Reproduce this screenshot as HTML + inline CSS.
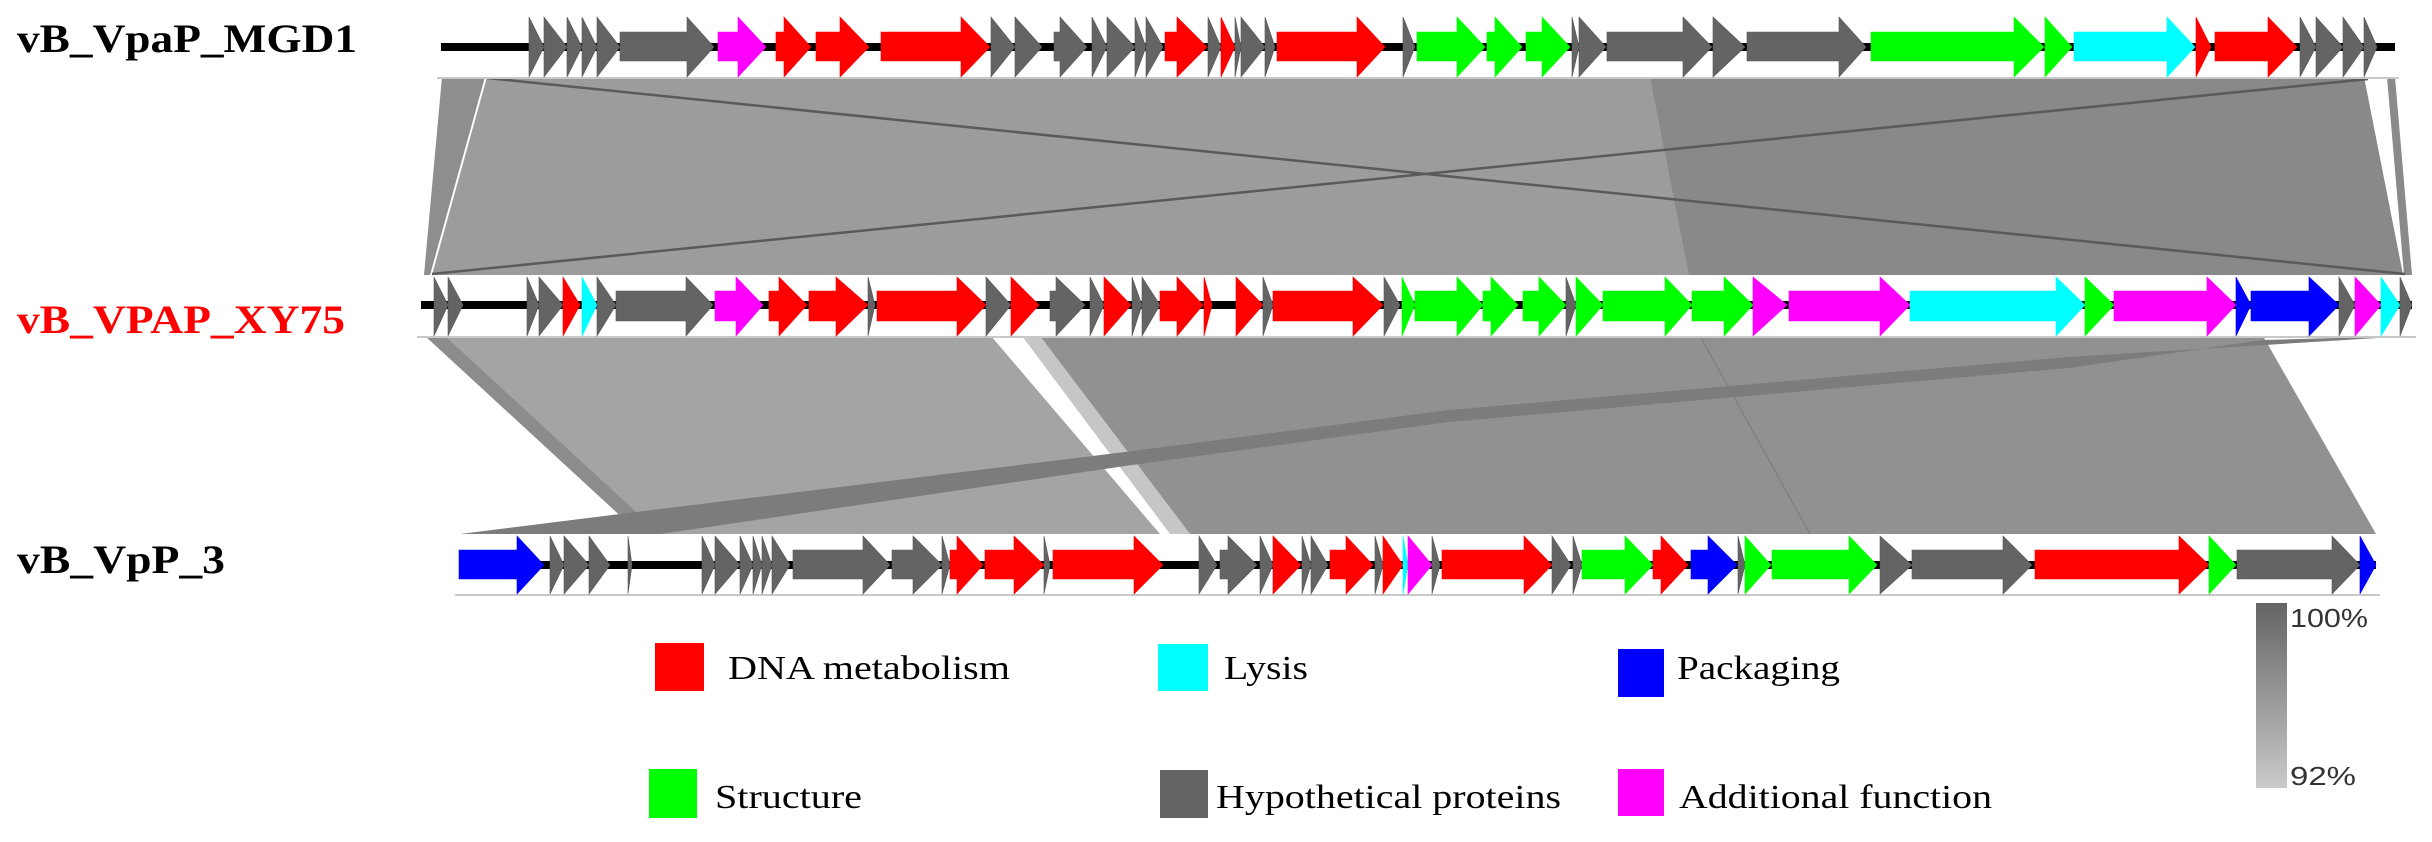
<!DOCTYPE html>
<html><head><meta charset="utf-8"><style>
html,body{margin:0;padding:0;background:#fff;}
svg{display:block;}
</style></head><body>
<svg id="s" width="2432" height="842" viewBox="0 0 2432 842" xmlns="http://www.w3.org/2000/svg">
<defs>
<linearGradient id="sg" x1="0" y1="0" x2="0" y2="1">
<stop offset="0" stop-color="#646464"/><stop offset="1" stop-color="#cacaca"/>
</linearGradient>
</defs>
<!-- band 1 -->
<polygon points="487,77 2364,77 2403,275 432,275" fill="#9c9c9c"/>
<polygon points="1650,77 2364,77 2403,275 1689,275" fill="#898989"/>
<polygon points="442,77 485,77 430,275 424,275" fill="#8e8e8e"/>
<polygon points="2387,77 2395,77 2412,275 2404,275" fill="#8a8a8a"/>
<line x1="487" y1="78" x2="2405" y2="274" stroke="#5a5a5a" stroke-width="2.5"/>
<line x1="432" y1="274" x2="2368" y2="79" stroke="#5a5a5a" stroke-width="2.5"/>
<!-- band 2 -->
<polygon points="425,336 991,336 1160,534 650,534" fill="#a4a4a4"/>
<polygon points="425,336 445,336 660,534 640,534" fill="#8c8c8c"/>
<polygon points="1022,336 1040,336 1190,534 1170,534" fill="#c6c6c6"/>
<polygon points="1040,336 2263,336 2376,534 1190,534" fill="#919191"/>
<polygon points="2410,336 2069,357 1449,410 1125,452 644,511 460,534 660,534 1125,466 1449,422 2069,368 2263,340" fill="#7c7c7c"/>
<line x1="1700" y1="336" x2="1810" y2="534" stroke="#7a7a7a" stroke-width="1"/>
<g id="tracks"></g>
<!-- labels -->
<text x="17" y="52" font-family="Liberation Serif, serif" font-weight="bold" font-size="40" textLength="340" lengthAdjust="spacingAndGlyphs" fill="#000">vB_VpaP_MGD1</text>
<text x="17" y="333" font-family="Liberation Serif, serif" font-weight="bold" font-size="40" textLength="328" lengthAdjust="spacingAndGlyphs" fill="#ff0000">vB_VPAP_XY75</text>
<text x="17" y="573" font-family="Liberation Serif, serif" font-weight="bold" font-size="40" textLength="208" lengthAdjust="spacingAndGlyphs" fill="#000">vB_VpP_3</text>
<!-- legend -->
<rect x="655" y="643" width="49" height="48" fill="#ff0000"/>
<text x="728" y="679" font-family="Liberation Serif, serif" font-size="34" textLength="282" lengthAdjust="spacingAndGlyphs">DNA metabolism</text>
<rect x="1158" y="644" width="50" height="47" fill="#00ffff"/>
<text x="1224" y="679" font-family="Liberation Serif, serif" font-size="34" textLength="84" lengthAdjust="spacingAndGlyphs">Lysis</text>
<rect x="1618" y="649" width="46" height="48" fill="#0000ff"/>
<text x="1677" y="679" font-family="Liberation Serif, serif" font-size="34" textLength="163" lengthAdjust="spacingAndGlyphs">Packaging</text>
<rect x="649" y="769" width="48" height="49" fill="#00ff00"/>
<text x="715" y="808" font-family="Liberation Serif, serif" font-size="34" textLength="147" lengthAdjust="spacingAndGlyphs">Structure</text>
<rect x="1160" y="770" width="48" height="48" fill="#646464"/>
<text x="1216" y="808" font-family="Liberation Serif, serif" font-size="34" textLength="345" lengthAdjust="spacingAndGlyphs">Hypothetical proteins</text>
<rect x="1618" y="769" width="46" height="47" fill="#ff00ff"/>
<text x="1679" y="808" font-family="Liberation Serif, serif" font-size="34" textLength="313" lengthAdjust="spacingAndGlyphs">Additional function</text>
<rect x="2256" y="603" width="31" height="185" fill="url(#sg)"/>
<text x="2290" y="627" font-family="Liberation Sans, sans-serif" font-size="26" textLength="78" lengthAdjust="spacingAndGlyphs" fill="#333">100%</text>
<text x="2290" y="785" font-family="Liberation Sans, sans-serif" font-size="26" textLength="66" lengthAdjust="spacingAndGlyphs" fill="#333">92%</text>
</svg>
<script>
var C={g:"#646464",r:"#ff0000",G:"#00ff00",c:"#00ffff",b:"#0000ff",m:"#ff00ff"};
var T=[
{cy:47,top:17,bot:77,bt:32,bb:61,x1:441,x2:2395,genes:[
[529,529,544,"g"],[544,544,567,"g"],[567,567,582,"g"],[582,582,597,"g"],[597,597,620,"g"],[620,687,714,"g"],[718,738,766,"m"],[776,784,811,"r"],[816,840,869,"r"],[881,961,990,"r"],[991,991,1015,"g"],[1015,1015,1042,"g"],[1054,1060,1087,"g"],[1092,1092,1107,"g"],[1107,1107,1135,"g"],[1135,1135,1146,"g"],[1146,1146,1163,"g"],[1165,1177,1207,"r"],[1208,1208,1221,"g"],[1221,1221,1235,"r"],[1235,1235,1241,"g"],[1241,1241,1265,"g"],[1265,1265,1275,"g"],[1277,1357,1385,"r"],[1403,1403,1415,"g"],
[1417,1457,1485,"G"],[1487,1495,1522,"G"],[1526,1542,1570,"G"],[1572,1572,1579,"g"],[1579,1579,1606,"g"],[1607,1683,1712,"g"],[1713,1713,1745,"g"],[1747,1839,1866,"g"],[1871,2014,2044,"G"],[2045,2045,2072,"G"],[2074,2167,2195,"c"],[2196,2196,2211,"r"],[2215,2268,2297,"r"],[2300,2300,2316,"g"],[2316,2316,2343,"g"],[2343,2343,2364,"g"],[2364,2364,2377,"g"]]},
{cy:305,top:277,bot:336,bt:291,bb:321,x1:421,x2:2412,genes:[
[434,434,448,"g"],[448,448,463,"g"],[527,527,539,"g"],[539,539,563,"g"],[563,563,580,"r"],[582,582,597,"c"],[597,597,616,"g"],[616,686,713,"g"],[715,736,763,"m"],[769,779,807,"r"],[809,836,868,"r"],[868,868,875,"g"],[877,957,986,"r"],[986,986,1011,"g"],[1011,1011,1039,"r"],[1050,1056,1085,"g"],[1090,1090,1104,"g"],[1104,1104,1131,"r"],[1132,1132,1142,"g"],[1142,1142,1160,"g"],[1160,1177,1203,"r"],[1204,1204,1212,"r"],[1236,1236,1263,"r"],[1263,1263,1273,"g"],[1273,1353,1383,"r"],[1384,1384,1400,"g"],[1402,1402,1415,"G"],
[1415,1457,1483,"G"],[1483,1491,1518,"G"],[1523,1539,1566,"G"],[1566,1566,1576,"g"],[1576,1576,1603,"G"],[1603,1665,1692,"G"],[1692,1724,1753,"G"],[1753,1753,1787,"m"],[1789,1880,1910,"m"],[1910,2056,2085,"c"],[2085,2085,2114,"G"],[2114,2207,2236,"m"],[2236,2236,2251,"b"],[2251,2309,2339,"b"],[2339,2339,2355,"g"],[2355,2355,2381,"m"],[2381,2381,2400,"c"],[2400,2400,2412,"g"]]},
{cy:565,top:536,bot:594,bt:550,bb:579,x1:459,x2:2376,genes:[
[459,517,544,"b"],[550,550,564,"g"],[564,564,589,"g"],[589,589,610,"g"],[628,628,632,"g"],[702,702,715,"g"],[715,715,740,"g"],[740,740,753,"g"],[753,753,762,"g"],[762,762,772,"g"],[772,772,790,"g"],[793,863,890,"g"],[892,913,942,"g"],[942,942,950,"g"],[950,957,983,"r"],[985,1014,1044,"r"],[1044,1044,1050,"g"],[1053,1134,1163,"r"],[1199,1199,1217,"g"],[1220,1228,1257,"g"],[1260,1260,1273,"g"],[1273,1273,1301,"r"],[1302,1302,1311,"g"],[1311,1311,1328,"g"],[1330,1346,1373,"r"],[1375,1375,1383,"g"],[1383,1383,1403,"r"],[1403,1403,1408,"c"],[1408,1408,1432,"m"],
[1432,1432,1440,"g"],[1442,1524,1552,"r"],[1552,1552,1571,"g"],[1573,1573,1582,"g"],[1582,1625,1653,"G"],[1653,1661,1688,"r"],[1691,1708,1737,"b"],[1738,1738,1745,"g"],[1745,1745,1771,"G"],[1772,1849,1877,"G"],[1880,1880,1912,"g"],[1912,2003,2032,"g"],[2035,2179,2209,"r"],[2209,2209,2236,"G"],[2237,2332,2360,"g"],[2360,2360,2376,"b"]]}
];
var g=document.getElementById("tracks"),h="";
T.forEach(function(t){
 h+='<rect x="'+(t.x1-4)+'" y="'+(t.top-1)+'" width="'+(t.x2-t.x1+8)+'" height="'+(t.bot-t.top+2)+'" fill="#fff"/>';
 h+='<line x1="'+(t.x1-4)+'" y1="'+(t.bot+1)+'" x2="'+(t.x2+4)+'" y2="'+(t.bot+1)+'" stroke="#c8c8c8" stroke-width="2"/>';
 h+='<rect x="'+t.x1+'" y="'+(t.cy-4)+'" width="'+(t.x2-t.x1)+'" height="8" fill="#000"/>';
 t.genes.forEach(function(a){
  var s=a[0],hs=a[1],e=a[2],p;
  if(hs>s) p=[s,t.bt,hs,t.bt,hs,t.top,e,t.cy,hs,t.bot,hs,t.bb,s,t.bb];
  else p=[s,t.top,e,t.cy,s,t.bot];
  h+='<polygon points="'+p.join(",")+'" fill="'+C[a[3]]+'" stroke="'+(a[3]=="g"?"#555":C[a[3]])+'" stroke-width="0.6"/>';
 });
});
g.innerHTML=h;
</script>
</body></html>
